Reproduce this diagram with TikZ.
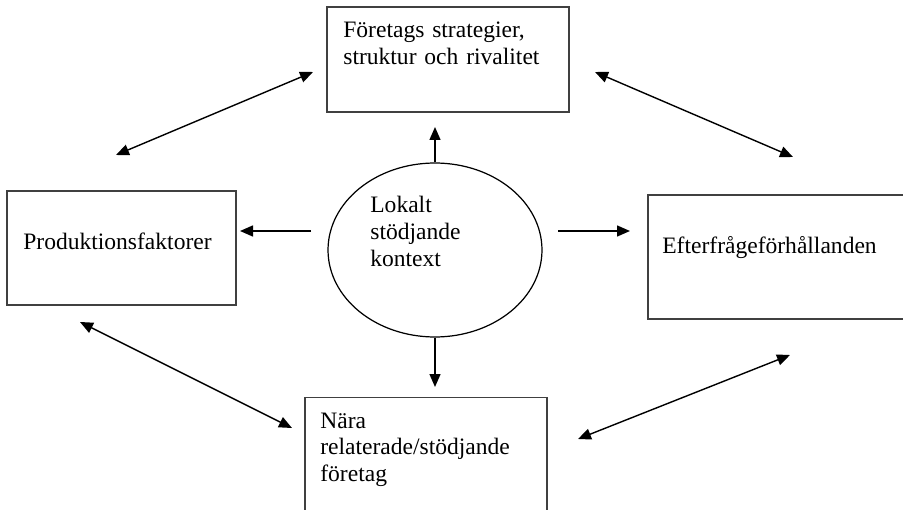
\documentclass[tikz,border=0pt]{standalone}
\usepackage{fontspec}
\setmainfont{Liberation Serif}
\usetikzlibrary{arrows.meta,shapes.geometric}

\tikzset{
  box/.style={draw=black!75, line width=0.85pt, rectangle, inner sep=0pt},
  txt/.style={anchor=base west, inner sep=0pt, align=left, text width=6cm,
    font=\fontsize{13.4}{15.3}\selectfont},
  link/.style={<->, line width=0.8pt},
  push/.style={->, line width=0.8pt},
}

\begin{document}
\begin{tikzpicture}[x=0.02cm,y=-0.02cm,>={Triangle[length=2.6mm,width=2.2mm]}]
\useasboundingbox (0,0) rectangle (903,510);

% the four boxes and the ellipse
\node[box, minimum width=4.84cm, minimum height=2.1cm] (strat) at (448,59.5) {};
\node[box, minimum width=4.58cm, minimum height=2.28cm] (prod) at (121.5,248) {};
\node[box, minimum width=5.6cm, minimum height=2.48cm] (demand) at (788,257) {};
\node[box, minimum width=4.84cm, minimum height=2.7cm] (rel) at (426,465) {};
\node[draw, ellipse, line width=0.7pt, inner sep=0pt,
      minimum width=4.28cm, minimum height=3.48cm] (ctx) at (435,250) {};

\node[txt] (strattxt) at (343,38) {Företags strategier,\\struktur och rivalitet};
\node[txt] (prodtxt) at (23,249) {Produktionsfaktorer};
\node[txt] (demandtxt) at (662,253) {Efterfrågeförhållanden};
\node[txt] (reltxt) at (320,428) {Nära\\relaterade/stödjande\\företag};
\node[txt] (ctxtxt) at (370,213) {Lokalt\\stödjande\\kontext};

% arrow ends
\coordinate (upend) at (435,127);
\coordinate (downend) at (435,387);
\coordinate (lfrom) at (311,231);
\coordinate (lto) at (240,231);
\coordinate (rfrom) at (558,231);
\coordinate (rto) at (630,231);
\coordinate (nw1) at (116,155);
\coordinate (nw2) at (313,72);
\coordinate (ne1) at (595,72);
\coordinate (ne2) at (793,157);
\coordinate (sw1) at (80,322);
\coordinate (sw2) at (292,428);
\coordinate (se1) at (578,439);
\coordinate (se2) at (790,355);

\draw[push] (ctx) -- (upend);
\draw[push] (ctx) -- (downend);
\draw[push] (lfrom) -- (lto);
\draw[push] (rfrom) -- (rto);

\draw[link] (nw1) -- (nw2);
\draw[link] (ne1) -- (ne2);
\draw[link] (sw1) -- (sw2);
\draw[link] (se1) -- (se2);
\end{tikzpicture}
\end{document}
